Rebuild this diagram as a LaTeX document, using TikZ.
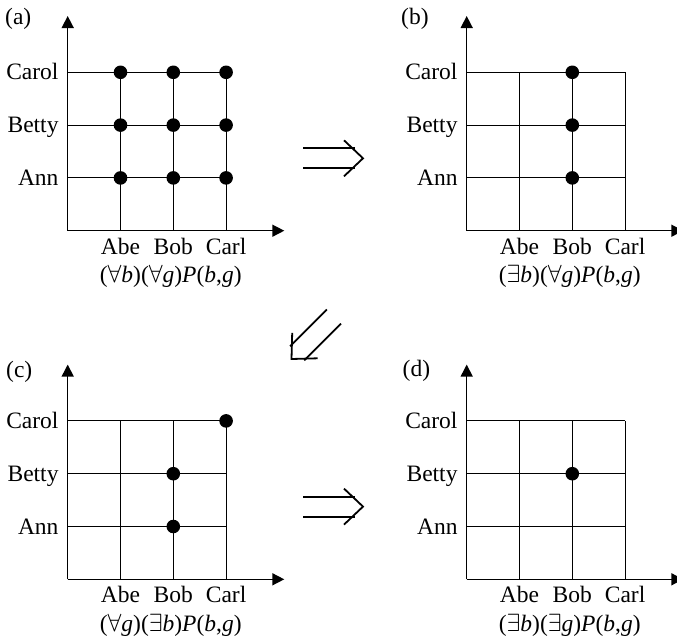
\documentclass[tikz,border=0pt]{standalone}
\usepackage{fontspec}
\setmainfont{Liberation Serif}
\usetikzlibrary{arrows.meta}

% one quantifier panel: #1 = id, #2 = origin, #3 = formula, #4 = marked cells (column/row)
\newcommand\drawpanel[4]{%
  \begin{scope}[shift={#2}]
    \coordinate (#1-o) at (0,0);
    \coordinate (#1-ytip) at (0,-214.7);
    \coordinate (#1-xtip) at (216.6,0);
    \foreach \i in {1,2,3}{
      \coordinate (#1-c\i) at (\i*52.8,0);
      \coordinate (#1-ct\i) at (\i*52.8,-158.4);
      \coordinate (#1-r\i) at (0,-\i*52.8);
      \coordinate (#1-re\i) at (158.4,-\i*52.8);
      \draw[gridline] (#1-c\i) -- (#1-ct\i);
      \draw[gridline] (#1-r\i) -- (#1-re\i);
    }
    \draw[axis] (#1-o) -- (#1-ytip);
    \draw[axis] (#1-o) -- (#1-xtip);
    \node[lbl,anchor=base east] (#1-ann) at (-9,-45.3) {Ann};
    \node[lbl,anchor=base east] (#1-betty) at (-9,-98.1) {Betty};
    \node[lbl,anchor=base east] (#1-carol) at (-9,-150.9) {Carol};
    \node[lbl,anchor=base] (#1-abe) at (52.8,23.3) {Abe};
    \node[lbl,anchor=base] (#1-bob) at (105.6,23.3) {Bob};
    \node[lbl,anchor=base] (#1-carl) at (158.4,23.3) {Carl};
    \node[lbl,anchor=base] (#1-formula) at (103,52) {#3};
    \foreach \c/\r in {#4}{
      \node[dot] (#1-dot\c\r) at (\c*52.8,-\r*52.8) {};
    }
  \end{scope}}

\begin{document}
\begin{tikzpicture}[x=1pt,y=-1pt,
  axis/.style={line width=1.5pt,-{Triangle[length=12pt,width=12pt]}},
  gridline/.style={line width=1.1pt},
  dot/.style={circle,fill=black,inner sep=0pt,minimum size=13.6pt},
  lbl/.style={inner sep=0pt,font=\fontsize{23.5}{28}\selectfont},
  implies/.style={line width=1.8pt},
  dblarrow/.pic={
    \draw[implies] (-60,10) -- (-8,10);
    \draw[implies] (-60,-10) -- (-8,-10);
    \draw[implies,line join=miter] (-19,-18) -- (0,0) -- (-19,18);
  }]
  \clip (0,0) rectangle (677,635);

  \drawpanel{a}{(67.7,230.7)}{(${\forall}$\textit{b})(${\forall}$\textit{g})\textit{P}(\textit{b},\textit{g})}{1/1,1/2,1/3,2/1,2/2,2/3,3/1,3/2,3/3}
  \drawpanel{b}{(466.7,230.7)}{(${\exists}$\textit{b})(${\forall}$\textit{g})\textit{P}(\textit{b},\textit{g})}{2/1,2/2,2/3}
  \drawpanel{c}{(67.7,579.3)}{(${\forall}$\textit{g})(${\exists}$\textit{b})\textit{P}(\textit{b},\textit{g})}{3/3,2/2,2/1}
  \drawpanel{d}{(466.7,579.3)}{(${\exists}$\textit{b})(${\exists}$\textit{g})\textit{P}(\textit{b},\textit{g})}{2/2}

  % panel tags
  \node[lbl,anchor=base west] (tag-a) at (5,24.5) {(a)};
  \node[lbl,anchor=base west] (tag-b) at (401,24.5) {(b)};
  \node[lbl,anchor=base west] (tag-c) at (6,377.5) {(c)};
  \node[lbl,anchor=base west] (tag-d) at (402.5,376.5) {(d)};

  % implication arrows between the panels
  \pic at (363,158.3) {dblarrow};
  \pic[rotate=225] at (291.5,359) {dblarrow};
  \pic at (363,506.6) {dblarrow};
\end{tikzpicture}
\end{document}
